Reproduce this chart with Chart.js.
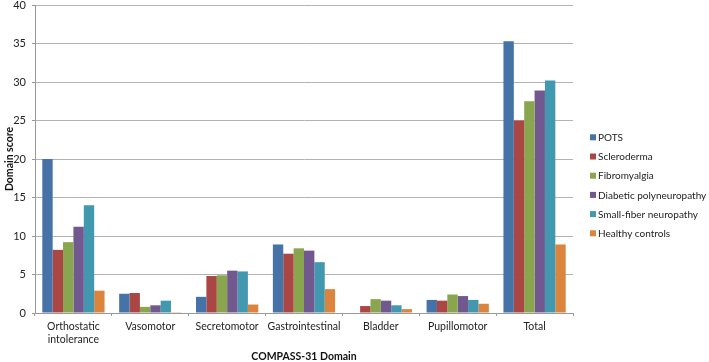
<!DOCTYPE html>
<html>
<head>
<meta charset="utf-8">
<script src="https://cdn.jsdelivr.net/npm/chart.js@4"></script>
<style>
html,body{margin:0;padding:0;background:#fff;}
#wrap{width:709px;height:362px;position:relative;}
</style>
</head>
<body>
<div id="wrap"><canvas id="c"></canvas></div>
<script>
const categories = [["Orthostatic","intolerance"],"Vasomotor","Secretomotor","Gastrointestinal","Bladder","Pupillomotor","Total"];
const seriesNames = ["POTS","Scleroderma","Fibromyalgia","Diabetic polyneuropathy","Small-fiber neuropathy","Healthy controls"];
const pots       = [20.0, 2.5, 2.1, 8.9, 0.0, 1.7, 35.3];
const scleroderma= [8.2, 2.6, 4.8, 7.7, 0.9, 1.6, 25.0];
const fibromyalgia=[9.2, 0.8, 4.9, 8.4, 1.8, 2.4, 27.5];
const diabetic   = [11.2, 1.0, 5.5, 8.1, 1.6, 2.2, 28.9];
const smallFiber = [14.0, 1.6, 5.4, 6.6, 1.0, 1.7, 30.2];
const healthy    = [2.9, 0.1, 1.1, 3.1, 0.5, 1.2, 8.9];
const yTicks = [0,5,10,15,20,25,30,35,40];

const colors = ["#4572A7","#AA4643","#89A54E","#71588F","#4198AF","#DB843D"];
const values = [pots, scleroderma, fibromyalgia, diabetic, smallFiber, healthy];
const FONT = "Lato, 'Liberation Sans', sans-serif";

// Legend drawn from the chart's own datasets (right side, vertical list)
const sideLegend = {
  id: 'sideLegend',
  afterDraw(chart) {
    const ctx = chart.ctx;
    const x0 = chart.chartArea.right + 17;
    const yStart = 137.3, step = 19.2, box = 6;
    ctx.save();
    ctx.font = "10px " + FONT;
    ctx.textBaseline = 'middle';
    ctx.textAlign = 'left';
    chart.data.datasets.forEach((ds, i) => {
      const y = yStart + i * step;
      ctx.fillStyle = ds.backgroundColor;
      ctx.fillRect(x0, y - box/2, box, box);
      ctx.fillStyle = '#222';
      ctx.fillText(ds.label, x0 + 8, y + 0.5);
    });
    ctx.restore();
  }
};

new Chart(document.getElementById('c'), {
  type: 'bar',
  data: {
    labels: categories,
    datasets: seriesNames.map((n,i)=>({
      label: n, data: values[i], backgroundColor: colors[i], borderWidth: 0,
      categoryPercentage: 0.81, barPercentage: 1.0
    }))
  },
  plugins: [sideLegend],
  options: {
    responsive: true, maintainAspectRatio: false, animation: false,
    layout: { padding: { top: 0, right: 136, left: 0, bottom: 0 } },
    plugins: {
      tooltip: { enabled: false },
      legend: { display: false }
    },
    scales: {
      x: {
        afterFit: (axis) => { axis.height = 49; axis.paddingLeft = 0; axis.paddingRight = 0; },
        grid: { drawOnChartArea: false, drawTicks: true, tickLength: 3, color: '#999', offset: true },
        border: { color: '#999' },
        ticks: { font: { family: FONT, size: 10.5, lineHeight: 1.27 }, color: '#222', maxRotation: 0, autoSkip: false, padding: 4 },
        title: { display: true, text: 'COMPASS-31 Domain', font: { family: FONT, size: 10.5, weight: 'bold' }, color: '#111', padding: { top: 3, bottom: -1 } }
      },
      y: {
        min: 0, max: 40,
        afterBuildTicks: (axis) => { axis.ticks = yTicks.map(v=>({value:v})); },
        afterFit: (axis) => { axis.width = 35; axis.paddingTop = 5; axis.paddingBottom = 0; },
        grid: { color: '#b3b3b3', tickLength: 3, drawTicks: true, tickColor: '#999' },
        border: { color: '#999' },
        ticks: { font: { family: FONT, size: 11 }, color: '#222', padding: 6 },
        title: { display: true, text: 'Domain score', font: { family: FONT, size: 10.5, weight: 'bold' }, color: '#111', padding: { top: 3, bottom: 1 } }
      }
    }
  }
});
</script>
</body>
</html>
